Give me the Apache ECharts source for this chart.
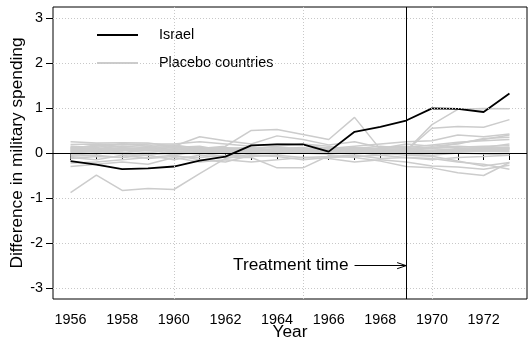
<!DOCTYPE html>
<html>
<head>
<meta charset="utf-8">
<script src="https://cdn.jsdelivr.net/npm/echarts@6/dist/echarts.min.js"></script>
<style>
  html, body { margin: 0; padding: 0; background: #fff; }
  #chart { width: 528px; height: 341px; }
</style>
</head>
<body>
<div id="chart"></div>
<script>
// Years covered by the synthetic-control comparison
const years = [1956,1957,1958,1959,1960,1961,1962,1963,1964,1965,1966,1967,1968,1969,1970,1971,1972,1973];

// Gap between Israel and its synthetic control
const israel = [-0.18,-0.26,-0.36,-0.34,-0.30,-0.17,-0.08,0.17,0.19,0.19,0.03,0.47,0.58,0.72,0.99,0.98,0.91,1.32];

// Gaps from the placebo runs (one list per donor country)
const placebo01 = [-0.88,-0.49,-0.83,-0.79,-0.81,-0.46,-0.12,-0.02,0.02,0.00,-0.03,0.02,0.00,-0.05,-0.07,-0.18,-0.29,-0.21];
const placebo02 = [0.05,0.10,0.15,0.12,0.15,0.36,0.27,0.20,0.38,0.30,0.18,0.25,0.12,0.15,0.10,0.22,0.30,0.40];
const placebo03 = [0.12,0.10,0.05,0.15,0.00,0.10,0.15,0.50,0.52,0.41,0.30,0.79,0.08,0.05,0.03,0.08,0.10,0.12];
const placebo04 = [0.25,0.22,0.23,0.22,0.15,0.12,0.10,0.05,0.08,0.10,0.05,0.00,0.05,0.05,0.55,0.59,0.57,0.74];
const placebo05 = [0.19,0.20,0.18,0.20,0.20,0.25,0.20,0.15,0.20,0.18,0.10,0.15,0.20,0.25,0.27,0.40,0.36,0.42];
const placebo06 = [-0.07,-0.05,-0.10,-0.05,-0.15,-0.05,-0.10,-0.10,-0.33,-0.33,-0.06,-0.10,-0.18,-0.30,-0.33,-0.44,-0.50,-0.21];
const placebo07 = [-0.30,-0.25,-0.20,-0.25,-0.10,-0.20,-0.15,-0.20,-0.15,-0.10,-0.12,-0.20,-0.15,-0.20,-0.29,-0.31,-0.36,-0.27];
const placebo08 = [0.12,0.15,0.20,0.18,0.05,0.00,0.05,0.10,0.15,0.20,0.15,0.05,0.10,0.20,0.15,0.20,0.32,0.35];
const placebo09 = [0.00,0.05,0.08,0.00,0.10,0.05,0.00,0.05,0.05,0.00,0.05,0.10,0.05,0.05,0.63,0.97,0.99,0.98];
const placebo10 = [-0.10,-0.15,-0.05,-0.12,-0.08,-0.10,-0.05,-0.08,-0.05,-0.10,-0.08,-0.05,-0.12,-0.10,-0.12,-0.20,-0.25,-0.36];
const placebo11 = [0.05,0.02,0.10,0.05,0.08,0.12,0.08,0.02,0.00,0.05,0.08,0.05,0.00,0.02,0.05,0.08,0.10,0.12];
const placebo12 = [-0.05,0.00,-0.02,-0.05,0.02,-0.02,0.05,0.00,-0.02,0.02,0.00,-0.02,0.02,0.05,0.00,0.02,0.05,0.05];
const placebo13 = [0.08,0.05,0.00,0.10,0.05,0.00,0.10,0.12,0.05,0.08,0.12,0.00,0.08,0.10,0.12,0.15,0.12,0.10];
const placebo14 = [-0.22,-0.20,-0.15,-0.10,-0.05,-0.15,-0.20,-0.05,-0.08,-0.15,-0.10,-0.08,-0.05,-0.10,-0.15,-0.10,-0.08,-0.05];
const placebo15 = [0.15,0.12,0.20,0.15,0.18,0.10,0.12,0.05,0.10,0.12,0.05,0.10,0.15,0.10,0.05,0.05,0.08,0.10];
const placebo16 = [0.02,-0.02,0.05,0.10,-0.05,0.05,0.02,0.08,0.02,0.05,0.02,0.08,0.05,-0.02,-0.05,0.00,-0.02,-0.05];
const placebo17 = [-0.12,-0.08,-0.10,0.00,-0.02,0.00,-0.08,0.02,0.10,0.05,0.00,0.02,-0.05,0.02,0.05,0.10,0.12,0.20];
const placebo18 = [0.10,0.18,0.12,0.08,0.12,0.15,0.05,-0.02,0.00,0.02,0.08,0.12,0.05,0.08,0.10,0.06,0.05,0.08];
const placebo19 = [0.03,0.04,0.06,0.05,0.04,0.06,0.05,0.04,0.06,0.05,0.04,0.06,0.05,0.04,0.06,0.08,0.07,0.09];
const placebo20 = [0.07,0.08,0.07,0.09,0.08,0.07,0.09,0.08,0.07,0.09,0.08,0.07,0.09,0.07,0.11,0.13,0.15,0.16];
const placebo21 = [-0.02,-0.01,0.01,-0.02,0.00,0.02,0.01,-0.01,0.01,0.02,-0.01,0.01,0.02,0.00,0.02,0.03,0.04,0.03];
const placebo22 = [0.10,0.09,0.11,0.10,0.12,0.09,0.11,0.10,0.12,0.10,0.09,0.11,0.10,0.12,0.18,0.24,0.27,0.30];

const placeboRuns = [placebo01,placebo02,placebo03,placebo04,placebo05,placebo06,placebo07,placebo08,placebo09,
                     placebo10,placebo11,placebo12,placebo13,placebo14,placebo15,placebo16,placebo17,placebo18,
                     placebo19,placebo20,placebo21,placebo22];

// Axis ticks, labels and reference grid
const xTicks = [1956,1957,1958,1959,1960,1961,1962,1963,1964,1965,1966,1967,1968,1969,1970,1971,1972,1973];
const xTickLabels = [1956,1958,1960,1962,1964,1966,1968,1970,1972];
const yTicks = [-3,-2,-1,0,1,2,3];
const xGrid = [1960,1965,1970];
const yGrid = [-3,-2,-1,0,1,2,3];

// Intervention year and its annotation
const treatmentYear = 1969;
const treatmentLabel = 'Treatment time';
const arrowStart = 1967;
const arrowLevel = -2.5;

const FONT = 'Liberation Sans, Arial, Helvetica, sans-serif';
const GRAY = '#cccccc';

const pair = (ys) => years.map((y, i) => [y, ys[i]]);

const series = [];

// Dotted background grid
series.push({
  type: 'line', data: [], silent: true, z: 1,
  markLine: {
    silent: true, symbol: 'none', animation: false,
    label: { show: false },
    lineStyle: { color: '#c8c8c8', type: [1, 2], width: 1 },
    data: xGrid.map(v => ({ xAxis: v })).concat(yGrid.map(v => ({ yAxis: v })))
  }
});

placeboRuns.forEach(run => {
  series.push({
    name: 'Placebo countries', type: 'line', data: pair(run),
    symbol: 'none', showSymbol: false, silent: true, z: 2,
    lineStyle: { color: GRAY, width: 1.5 }, itemStyle: { color: GRAY },
    animation: false
  });
});

series.push({
  name: 'Israel', type: 'line', data: pair(israel),
  symbol: 'none', showSymbol: false, silent: true, z: 4,
  lineStyle: { color: '#000', width: 1.8 }, itemStyle: { color: '#000' },
  animation: false
});

// Zero line, treatment line and the arrow annotation
series.push({
  type: 'line', data: [], silent: true, z: 3,
  markLine: {
    silent: true, symbol: 'none', animation: false,
    lineStyle: { color: '#000', type: 'solid', width: 1 },
    label: { show: false },
    data: [
      { yAxis: 0 },
      { xAxis: treatmentYear },
      [
        { coord: [arrowStart, arrowLevel],
          label: { show: true, position: 'start', formatter: treatmentLabel, distance: 6,
                   color: '#000', fontSize: 17.3, fontFamily: FONT } },
        { coord: [treatmentYear, arrowLevel] }
      ],
      [ { coord: [treatmentYear - 0.35, arrowLevel + 0.068] }, { coord: [treatmentYear, arrowLevel] } ],
      [ { coord: [treatmentYear - 0.35, arrowLevel - 0.068] }, { coord: [treatmentYear, arrowLevel] } ]
    ]
  }
});

const chart = echarts.init(document.getElementById('chart'), null, { renderer: 'canvas' });
chart.setOption({
  animation: false,
  backgroundColor: '#fff',
  textStyle: { fontFamily: FONT },
  grid: {
    left: 53, right: 1, top: 7, bottom: 42,
    containLabel: false, outerBoundsMode: 'none',
    show: true, borderColor: '#000', borderWidth: 1, backgroundColor: 'transparent'
  },
  legend: {
    orient: 'vertical', left: 91, top: 23,
    itemWidth: 41, itemHeight: 14, itemGap: 14,
    selectedMode: false,
    itemStyle: { opacity: 0 },
    data: ['Israel', 'Placebo countries'],
    textStyle: { fontSize: 14.4, color: '#000', fontFamily: FONT, padding: [0, 0, 0, 16] }
  },
  xAxis: {
    type: 'value', min: 1955.32, max: 1973.68,
    name: 'Year', nameLocation: 'middle', nameGap: 25, nameMoveOverlap: false,
    nameTextStyle: { fontSize: 17.3, color: '#000', fontFamily: FONT },
    axisLine: { show: false },
    axisTick: { show: true, inside: false, length: 7, customValues: xTicks, lineStyle: { color: '#000' } },
    axisLabel: { show: true, customValues: xTickLabels, margin: 14, fontSize: 14.4, color: '#000', fontFamily: FONT,
                 formatter: v => String(v) },
    splitLine: { show: false }
  },
  yAxis: {
    type: 'value', min: -3.24, max: 3.24,
    name: 'Difference in military spending', nameLocation: 'middle', nameGap: 27, nameRotate: 90, nameMoveOverlap: false,
    nameTextStyle: { fontSize: 17.3, color: '#000', fontFamily: FONT },
    axisLine: { show: false },
    axisTick: { show: true, inside: false, length: 7, customValues: yTicks, lineStyle: { color: '#000' } },
    axisLabel: { show: true, customValues: yTicks, margin: 10, fontSize: 14.4, color: '#000', fontFamily: FONT },
    splitLine: { show: false }
  },
  series: series
});
</script>
</body>
</html>
